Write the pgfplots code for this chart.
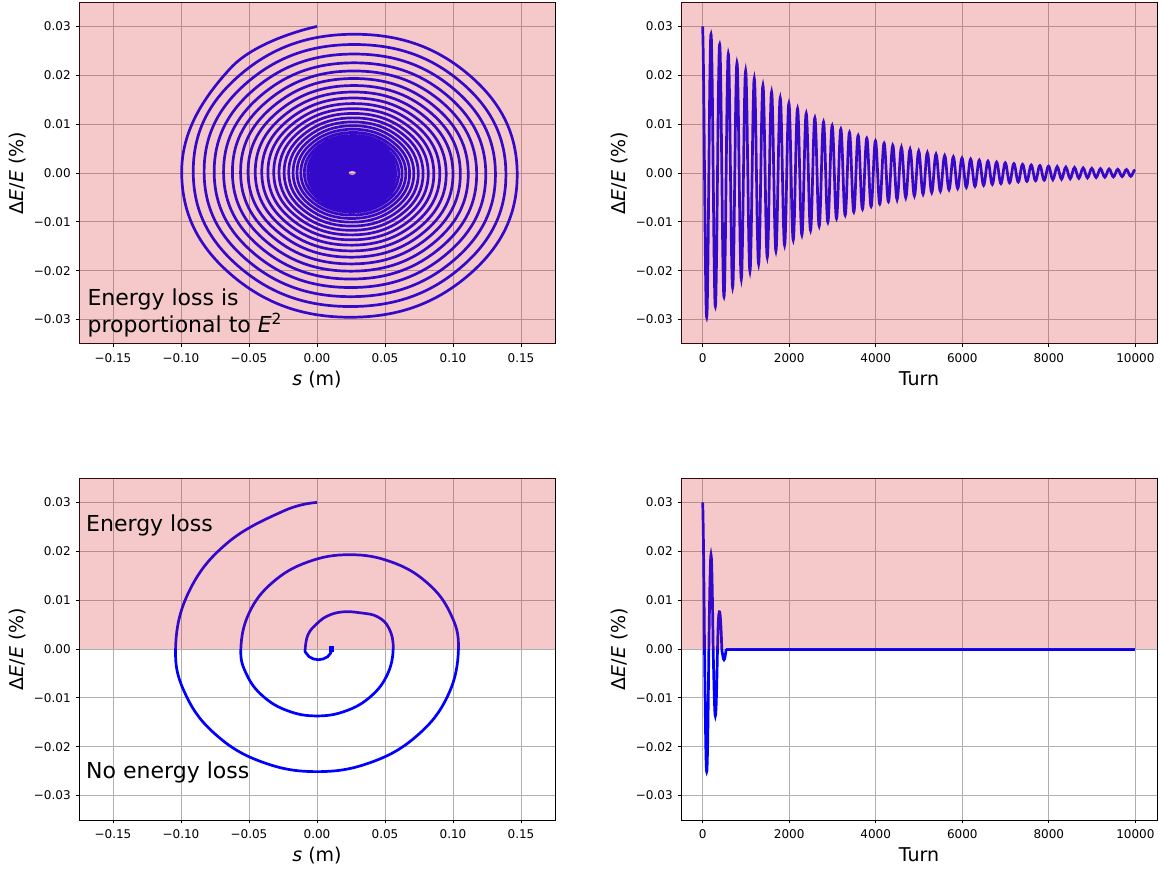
\documentclass[border=0pt]{standalone}
\usepackage{fontspec}
\setmainfont{DejaVu Sans}
\usepackage{pgfplots}
\pgfplotsset{compat=1.18}
\usepackage{pgfplotstable}
\definecolor{tabred}{RGB}{214,39,40}
\definecolor{gridgray}{RGB}{176,176,176}
\definecolor{trace}{RGB}{0,0,255}

% energy loss proportional to E^2: turn, s (m), dE/E (%)
\pgfplotstableread[row sep=\\]{
t s d\\
0 0 0.03\\ 18.6 -0.0635 0.02148\\ 43.6 -0.0995 0\\ 68.6 -0.0620 -0.02107\\ 93.6 0.026 -0.02952\\ 118.6 0.1124 -0.02067\\ 143.6 0.1472 0\\ 168.6 0.1109 0.02028\\
193.6 0.026 0.02840\\ 218.6 -0.0574 0.01989\\ 243.6 -0.0910 0\\ 268.6 -0.0560 -0.01951\\ 293.6 0.026 -0.02733\\ 318.6 0.1066 -0.01914\\ 343.6 0.1389 0\\ 368.6 0.1051 0.01878\\
393.6 0.026 0.02630\\ 418.6 -0.0518 0.01842\\ 443.6 -0.0830 0\\ 468.6 -0.0504 -0.01807\\ 493.6 0.026 -0.02531\\ 518.6 0.1011 -0.01773\\ 543.6 0.1312 0\\ 568.6 0.0998 0.01739\\
593.6 0.026 0.02435\\ 618.6 -0.0465 0.01706\\ 643.6 -0.0756 0\\ 668.6 -0.0452 -0.01673\\ 693.6 0.026 -0.02344\\ 718.6 0.0960 -0.01641\\ 743.6 0.1241 0\\ 768.6 0.0947 0.01610\\
793.6 0.026 0.02255\\ 818.6 -0.0415 0.01579\\ 843.6 -0.0687 0\\ 868.6 -0.0404 -0.01549\\ 893.6 0.026 -0.02170\\ 918.6 0.0912 -0.01520\\ 943.6 0.1174 0\\ 968.6 0.0901 0.01491\\
993.6 0.026 0.02088\\ 1018.6 -0.0370 0.01462\\ 1043.6 -0.0622 0\\ 1068.6 -0.0359 -0.01435\\ 1093.6 0.026 -0.02009\\ 1118.6 0.0868 -0.01407\\ 1143.6 0.1112 0\\ 1168.6 0.0857 0.01380\\
1193.6 0.026 0.01934\\ 1218.6 -0.0327 0.01354\\ 1243.6 -0.0562 0\\ 1268.6 -0.0317 -0.01328\\ 1293.6 0.026 -0.01861\\ 1318.6 0.0826 -0.01303\\ 1343.6 0.1054 0\\ 1368.6 0.0817 0.01278\\
1393.6 0.026 0.01790\\ 1418.6 -0.0287 0.01254\\ 1443.6 -0.0507 0\\ 1468.6 -0.0277 -0.01230\\ 1493.6 0.026 -0.01723\\ 1518.6 0.0788 -0.01207\\ 1543.6 0.1000 0\\ 1568.6 0.0779 0.01184\\
1593.6 0.026 0.01658\\ 1618.6 -0.0250 0.01161\\ 1643.6 -0.0454 0\\ 1668.6 -0.0241 -0.01139\\ 1693.6 0.026 -0.01595\\ 1718.6 0.0752 -0.01117\\ 1743.6 0.0950 0\\ 1768.6 0.0743 0.01096\\
1793.6 0.026 0.01535\\ 1818.6 -0.0215 0.01075\\ 1843.6 -0.0406 0\\ 1868.6 -0.0207 -0.01055\\ 1893.6 0.026 -0.01477\\ 1918.6 0.0719 -0.01034\\ 1943.6 0.0903 0\\ 1968.6 0.0711 0.01015\\
1993.6 0.026 0.01421\\ 2018.6 -0.0183 0.00995\\ 2043.6 -0.0361 0\\ 2068.6 -0.0175 -0.00976\\ 2093.6 0.026 -0.01368\\ 2118.6 0.0687 -0.00958\\ 2143.6 0.0859 0\\ 2168.6 0.0680 0.00940\\
2193.6 0.026 0.01316\\ 2218.6 -0.0153 0.00922\\ 2243.6 -0.0318 0\\ 2268.6 -0.0145 -0.00904\\ 2293.6 0.026 -0.01267\\ 2318.6 0.0658 -0.00887\\ 2343.6 0.0818 0\\ 2368.6 0.0651 0.00870\\
2393.6 0.026 0.01219\\ 2418.6 -0.0125 0.00854\\ 2443.6 -0.0279 0\\ 2468.6 -0.0118 -0.00837\\ 2493.6 0.026 -0.01173\\ 2518.6 0.0631 -0.00821\\ 2543.6 0.0780 0\\ 2568.6 0.0625 0.00806\\
2593.6 0.026 0.01128\\ 2618.6 -0.0098 0.00790\\ 2643.6 -0.0242 0\\ 2668.6 -0.0092 -0.00775\\ 2693.6 0.026 -0.01086\\ 2718.6 0.0606 -0.00761\\ 2743.6 0.0745 0\\ 2768.6 0.0600 0.00746\\
2793.6 0.026 0.01045\\ 2818.6 -0.0074 0.00732\\ 2843.6 -0.0208 0\\ 2868.6 -0.0068 -0.00718\\ 2893.6 0.026 -0.01006\\ 2918.6 0.0582 -0.00704\\ 2943.6 0.0712 0\\ 2968.6 0.0577 0.00691\\
2993.6 0.026 0.00968\\ 3018.6 -0.0051 0.00678\\ 3043.6 -0.0176 0\\ 3068.6 -0.0046 -0.00665\\ 3093.6 0.026 -0.00931\\ 3118.6 0.0560 -0.00652\\ 3143.6 0.0681 0\\ 3168.6 0.0555 0.00640\\
3193.6 0.026 0.00896\\ 3218.6 -0.0030 0.00628\\ 3243.6 -0.0147 0\\ 3268.6 -0.0025 -0.00616\\ 3293.6 0.026 -0.00862\\ 3318.6 0.0540 -0.00604\\ 3343.6 0.0653 0\\ 3368.6 0.0535 0.00592\\
3393.6 0.026 0.00830\\ 3418.6 -0.0010 0.00581\\ 3443.6 -0.0119 0\\ 3468.6 -0.0006 -0.00570\\ 3493.6 0.026 -0.00798\\ 3518.6 0.0521 -0.00559\\ 3543.6 0.0626 0\\ 3568.6 0.0517 0.00548\\
3593.6 0.026 0.00768\\ 3618.6 0.0008 0.00538\\ 3643.6 -0.0093 0\\ 3668.6 0.0012 -0.00528\\ 3693.6 0.026 -0.00739\\ 3718.6 0.0503 -0.00518\\ 3743.6 0.0601 0\\ 3768.6 0.0499 0.00508\\
3793.6 0.026 0.00711\\ 3818.6 0.0025 0.00498\\ 3843.6 -0.0069 0\\ 3868.6 0.0029 -0.00489\\ 3893.6 0.026 -0.00684\\ 3918.6 0.0487 -0.00479\\ 3943.6 0.0578 0\\ 3968.6 0.0483 0.00470\\
3993.6 0.026 0.00659\\ 4018.6 0.0041 0.00461\\ 4043.6 -0.0047 0\\ 4068.6 0.0045 -0.00453\\ 4093.6 0.026 -0.00634\\ 4118.6 0.0471 -0.00444\\ 4143.6 0.0556 0\\ 4168.6 0.0468 0.00435\\
4193.6 0.026 0.00610\\ 4218.6 0.0056 0.00427\\ 4243.6 -0.0026 0\\ 4268.6 0.0060 -0.00419\\ 4293.6 0.026 -0.00587\\ 4318.6 0.0457 -0.00411\\ 4343.6 0.0536 0\\ 4368.6 0.0454 0.00403\\
4393.6 0.026 0.00565\\ 4418.6 0.0070 0.00395\\ 4443.6 -0.0007 0\\ 4468.6 0.0073 -0.00388\\ 4493.6 0.026 -0.00543\\ 4518.6 0.0444 -0.00381\\ 4543.6 0.0517 0\\ 4568.6 0.0440 0.00373\\
4593.6 0.026 0.00523\\ 4618.6 0.0083 0.00366\\ 4643.6 0.0012 0\\ 4668.6 0.0086 -0.00359\\ 4693.6 0.026 -0.00503\\ 4718.6 0.0431 -0.00352\\ 4743.6 0.0500 0\\ 4768.6 0.0428 0.00346\\
4793.6 0.026 0.00484\\ 4818.6 0.0095 0.00339\\ 4843.6 0.0029 0\\ 4868.6 0.0098 -0.00333\\ 4893.6 0.026 -0.00466\\ 4918.6 0.0419 -0.00326\\ 4943.6 0.0484 0\\ 4968.6 0.0417 0.00320\\
4993.6 0.026 0.00448\\ 5018.6 0.0106 0.00314\\ 5043.6 0.0044 0\\ 5068.6 0.0109 -0.00308\\ 5093.6 0.026 -0.00431\\ 5118.6 0.0409 -0.00302\\ 5143.6 0.0468 0\\ 5168.6 0.0406 0.00296\\
5193.6 0.026 0.00415\\ 5218.6 0.0117 0.00291\\ 5243.6 0.0059 0\\ 5268.6 0.0119 -0.00285\\ 5293.6 0.026 -0.00399\\ 5318.6 0.0399 -0.00280\\ 5343.6 0.0454 0\\ 5368.6 0.0396 0.00274\\
5393.6 0.026 0.00384\\ 5418.6 0.0126 0.00269\\ 5443.6 0.0073 0\\ 5468.6 0.0129 -0.00264\\ 5493.6 0.026 -0.00370\\ 5518.6 0.0389 -0.00259\\ 5543.6 0.0441 0\\ 5568.6 0.0387 0.00254\\
5593.6 0.026 0.00356\\ 5618.6 0.0135 0.00249\\ 5643.6 0.0085 0\\ 5668.6 0.0138 -0.00245\\ 5693.6 0.026 -0.00342\\ 5718.6 0.0380 -0.00240\\ 5743.6 0.0429 0\\ 5768.6 0.0378 0.00235\\
5793.6 0.026 0.00330\\ 5818.6 0.0144 0.00231\\ 5843.6 0.0097 0\\ 5868.6 0.0146 -0.00226\\ 5893.6 0.026 -0.00317\\ 5918.6 0.0372 -0.00222\\ 5943.6 0.0417 0\\ 5968.6 0.0370 0.00218\\
5993.6 0.026 0.00305\\ 6018.6 0.0152 0.00214\\ 6043.6 0.0108 0\\ 6068.6 0.0154 -0.00210\\ 6093.6 0.026 -0.00294\\ 6118.6 0.0364 -0.00206\\ 6143.6 0.0406 0\\ 6168.6 0.0363 0.00202\\
6193.6 0.026 0.00283\\ 6218.6 0.0159 0.00198\\ 6243.6 0.0119 0\\ 6268.6 0.0161 -0.00194\\ 6293.6 0.026 -0.00272\\ 6318.6 0.0357 -0.00190\\ 6343.6 0.0397 0\\ 6368.6 0.0356 0.00187\\
6393.6 0.026 0.00262\\ 6418.6 0.0166 0.00183\\ 6443.6 0.0128 0\\ 6468.6 0.0168 -0.00180\\ 6493.6 0.026 -0.00252\\ 6518.6 0.0351 -0.00176\\ 6543.6 0.0387 0\\ 6568.6 0.0349 0.00173\\
6593.6 0.026 0.00242\\ 6618.6 0.0172 0.00170\\ 6643.6 0.0137 0\\ 6668.6 0.0174 -0.00166\\ 6693.6 0.026 -0.00233\\ 6718.6 0.0345 -0.00163\\ 6743.6 0.0379 0\\ 6768.6 0.0343 0.00160\\
6793.6 0.026 0.00224\\ 6818.6 0.0178 0.00157\\ 6843.6 0.0146 0\\ 6868.6 0.0180 -0.00154\\ 6893.6 0.026 -0.00216\\ 6918.6 0.0339 -0.00151\\ 6943.6 0.0371 0\\ 6968.6 0.0338 0.00148\\
6993.6 0.026 0.00208\\ 7018.6 0.0184 0.00146\\ 7043.6 0.0153 0\\ 7068.6 0.0185 -0.00143\\ 7093.6 0.026 -0.00200\\ 7118.6 0.0334 -0.00140\\ 7143.6 0.0363 0\\ 7168.6 0.0332 0.00137\\
7193.6 0.026 0.00192\\ 7218.6 0.0189 0.00135\\ 7243.6 0.0161 0\\ 7268.6 0.0190 -0.00132\\ 7293.6 0.026 -0.00185\\ 7318.6 0.0329 -0.00130\\ 7343.6 0.0356 0\\ 7368.6 0.0327 0.00127\\
7393.6 0.026 0.00178\\ 7418.6 0.0194 0.00125\\ 7443.6 0.0167 0\\ 7468.6 0.0195 -0.00122\\ 7493.6 0.026 -0.00171\\ 7518.6 0.0324 -0.00120\\ 7543.6 0.0349 0\\ 7568.6 0.0323 0.00118\\
7593.6 0.026 0.00165\\ 7618.6 0.0198 0.00115\\ 7643.6 0.0174 0\\ 7668.6 0.0199 -0.00113\\ 7693.6 0.026 -0.00159\\ 7718.6 0.0320 -0.00111\\ 7743.6 0.0343 0\\ 7768.6 0.0318 0.00109\\
7793.6 0.026 0.00153\\ 7818.6 0.0203 0.00107\\ 7843.6 0.0180 0\\ 7868.6 0.0204 -0.00105\\ 7893.6 0.026 -0.00147\\ 7918.6 0.0315 -0.00103\\ 7943.6 0.0338 0\\ 7968.6 0.0314 0.00101\\
7993.6 0.026 0.00141\\ 8018.6 0.0207 0.00099\\ 8043.6 0.0185 0\\ 8068.6 0.0207 -0.00097\\ 8093.6 0.026 -0.00136\\ 8118.6 0.0312 -0.00095\\ 8143.6 0.0332 0\\ 8168.6 0.0311 0.00093\\
8193.6 0.026 0.00131\\ 8218.6 0.0210 0.00092\\ 8243.6 0.0190 0\\ 8268.6 0.0211 -0.00090\\ 8293.6 0.026 -0.00126\\ 8318.6 0.0308 -0.00088\\ 8343.6 0.0327 0\\ 8368.6 0.0307 0.00087\\
8393.6 0.026 0.00121\\ 8418.6 0.0214 0.00085\\ 8443.6 0.0195 0\\ 8468.6 0.0214 -0.00083\\ 8493.6 0.026 -0.00117\\ 8518.6 0.0305 -0.00082\\ 8543.6 0.0323 0\\ 8568.6 0.0304 0.00080\\
8593.6 0.026 0.00112\\ 8618.6 0.0217 0.00079\\ 8643.6 0.0199 0\\ 8668.6 0.0217 -0.00077\\ 8693.6 0.026 -0.00108\\ 8718.6 0.0302 -0.00076\\ 8743.6 0.0319 0\\ 8768.6 0.0301 0.00074\\
8793.6 0.026 0.00104\\ 8818.6 0.0220 0.00073\\ 8843.6 0.0203 0\\ 8868.6 0.0220 -0.00071\\ 8893.6 0.026 -0.00100\\ 8918.6 0.0299 -0.00070\\ 8943.6 0.0315 0\\ 8968.6 0.0298 0.00069\\
8993.6 0.026 0.00096\\ 9018.6 0.0222 0.00067\\ 9043.6 0.0207 0\\ 9068.6 0.0223 -0.00066\\ 9093.6 0.026 -0.00093\\ 9118.6 0.0296 -0.00065\\ 9143.6 0.0311 0\\ 9168.6 0.0296 0.00064\\
9193.6 0.026 0.00089\\ 9218.6 0.0225 0.00062\\ 9243.6 0.0211 0\\ 9268.6 0.0226 -0.00061\\ 9293.6 0.026 -0.00086\\ 9318.6 0.0294 -0.00060\\ 9343.6 0.0307 0\\ 9368.6 0.0293 0.00059\\
9393.6 0.026 0.00082\\ 9418.6 0.0227 0.00058\\ 9443.6 0.0214 0\\ 9468.6 0.0228 -0.00057\\ 9493.6 0.026 -0.00079\\ 9518.6 0.0292 -0.00056\\ 9543.6 0.0304 0\\ 9568.6 0.0291 0.00055\\
9593.6 0.026 0.00076\\ 9618.6 0.0230 0.00054\\ 9643.6 0.0217 0\\ 9668.6 0.0230 -0.00052\\ 9693.6 0.026 -0.00074\\ 9718.6 0.0289 -0.00051\\ 9743.6 0.0301 0\\ 9768.6 0.0289 0.00051\\
9793.6 0.026 0.00071\\ 9818.6 0.0232 0.00050\\ 9843.6 0.0220 0\\ 9868.6 0.0232 -0.00049\\ 9893.6 0.026 -0.00068\\ 9918.6 0.0287 -0.00048\\ 9943.6 0.0298 0\\ 9968.6 0.0287 0.00047\\
9993.6 0.026 0.00066\\
}\lossquad

% energy loss only for dE/E > 0
\pgfplotstableread[row sep=\\]{
t s d\\
0 0 0.03\\ 6.3 -0.0244 0.02827\\ 18.8 -0.0662 0.02164\\ 31.3 -0.0942 0.01171\\ 43.8 -0.1040 0\\
56.3 -0.0961 -0.00961\\ 68.8 -0.0735 -0.01775\\ 81.3 -0.0398 -0.02319\\ 93.8 0 -0.0251\\
106.3 0.0398 -0.02319\\ 118.8 0.0735 -0.01775\\ 131.3 0.0961 -0.00961\\ 143.8 0.1040 0\\
156.3 0.0979 0.00739\\ 168.8 0.0806 0.01365\\ 181.3 0.0546 0.01783\\ 193.8 0.0240 0.0193\\
206.3 -0.0066 0.01783\\ 218.8 -0.0326 0.01365\\ 231.3 -0.0499 0.00739\\ 243.8 -0.0560 0\\
256.3 -0.0517 -0.00524\\ 268.8 -0.0396 -0.00969\\ 281.3 -0.0214 -0.01266\\ 293.8 0 -0.0137\\
306.3 0.0214 -0.01266\\ 318.8 0.0396 -0.00969\\ 331.3 0.0517 -0.00524\\ 343.8 0.0560 0\\
356.3 0.0530 0.0042\\ 368.8 0.0445 0.0066\\ 381.3 0.0320 0.0074\\ 393.8 0.0190 0.0076\\
406.3 0.0080 0.0068\\ 418.8 0.0000 0.0052\\ 431.3 -0.0065 0.0030\\ 443.8 -0.0087 0\\
456.3 -0.0080 -0.00084\\ 468.8 -0.0059 -0.00156\\ 481.3 -0.0027 -0.00203\\ 493.8 0.001 -0.0022\\
506.3 0.0047 -0.00203\\ 518.8 0.0079 -0.00156\\ 531.3 0.0100 -0.00084\\ 543.8 0.0107 0\\
}\losshalf

\tikzset{note/.style={anchor=base west, inner sep=0pt, font=\fontsize{11}{13}\selectfont}}

\pgfplotsset{
  panel/.style={
    scale only axis, width=238pt, height=171pt,
    ymin=-0.035, ymax=0.035,
    ytick={-0.03,-0.02,-0.01,0,0.01,0.02,0.03},
    yticklabels={−0.03,−0.02,−0.01,0.00,0.01,0.02,0.03},
    scaled ticks=false,
    tick align=outside, tick pos=left,
    major tick length=1.65pt,
    every tick/.style={black, line width=0.5pt},
    axis line style={line width=0.5pt},
    grid=major, grid style={gridgray, line width=0.5pt},
    tick label style={font=\fontsize{6}{7}\selectfont},
    xticklabel style={inner sep=0pt, yshift=-2.7pt},
    yticklabel style={inner sep=0pt, xshift=-2.3pt},
    label style={font=\fontsize{9.5}{11}\selectfont},
    ylabel={Δ\textit{E}/\textit{E} (\%)},
    ylabel style={at={(axis description cs:-0.11,0.5)}, anchor=south, inner sep=0pt},
    xlabel style={at={(axis description cs:0.5,-0.079)}, anchor=north, inner sep=0pt},
  },
  phase/.style={panel,
    xmin=-0.175, xmax=0.175,
    xtick={-0.15,-0.1,-0.05,0,0.05,0.1,0.15},
    xticklabels={−0.15,−0.10,−0.05,0.00,0.05,0.10,0.15},
    xlabel={\textit{s} (m)},
  },
  turns/.style={panel,
    xmin=-500, xmax=10500,
    xtick={0,2000,4000,6000,8000,10000},
    xticklabels={0,2000,4000,6000,8000,10000},
    xlabel={Turn},
  },
}

\begin{document}
\begin{tikzpicture}
\path[use as bounding box] (0pt,0pt) rectangle (581pt,-435.5pt);

\begin{axis}[phase, at={(39.5pt,-172pt)}, anchor=south west]
  \addplot[trace, line width=1.35pt, smooth, tension=0.72] table[x=s, y=d] {\lossquad};
  \fill[tabred, fill opacity=0.25] (rel axis cs:0,0) rectangle (rel axis cs:1,1);
  \node[note] at (axis cs:-0.169,-0.0271) {Energy loss is};
  \node[note] at (axis cs:-0.169,-0.0326) {proportional to \textit{E}\textsuperscript{2}};
\end{axis}

\begin{axis}[turns, at={(340.5pt,-172pt)}, anchor=south west]
  \addplot[trace, line width=1.35pt, smooth, tension=0.72] table[x=t, y=d] {\lossquad};
  \fill[tabred, fill opacity=0.25] (rel axis cs:0,0) rectangle (rel axis cs:1,1);
\end{axis}

\begin{axis}[phase, at={(39.5pt,-410pt)}, anchor=south west]
  \addplot[trace, line width=1.35pt, smooth, tension=0.69] table[x=s, y=d] {\losshalf};
  \addplot[trace, only marks, mark=square*, mark size=1.1pt] coordinates {(0.0107,0)};
  \fill[tabred, fill opacity=0.25] (rel axis cs:0,0.5) rectangle (rel axis cs:1,1);
  \node[note] at (axis cs:-0.17,0.024) {Energy loss};
  \node[note] at (axis cs:-0.17,-0.0265) {No energy loss};
\end{axis}

\begin{axis}[turns, at={(340.5pt,-410pt)}, anchor=south west]
  \addplot[trace, line width=1.35pt, smooth, tension=0.69] table[x=t, y=d] {\losshalf};
  \addplot[trace, line width=1.5pt] coordinates {(543.8,0) (10000,0)};
  \fill[tabred, fill opacity=0.25] (rel axis cs:0,0.5) rectangle (rel axis cs:1,1);
\end{axis}
\end{tikzpicture}
\end{document}
